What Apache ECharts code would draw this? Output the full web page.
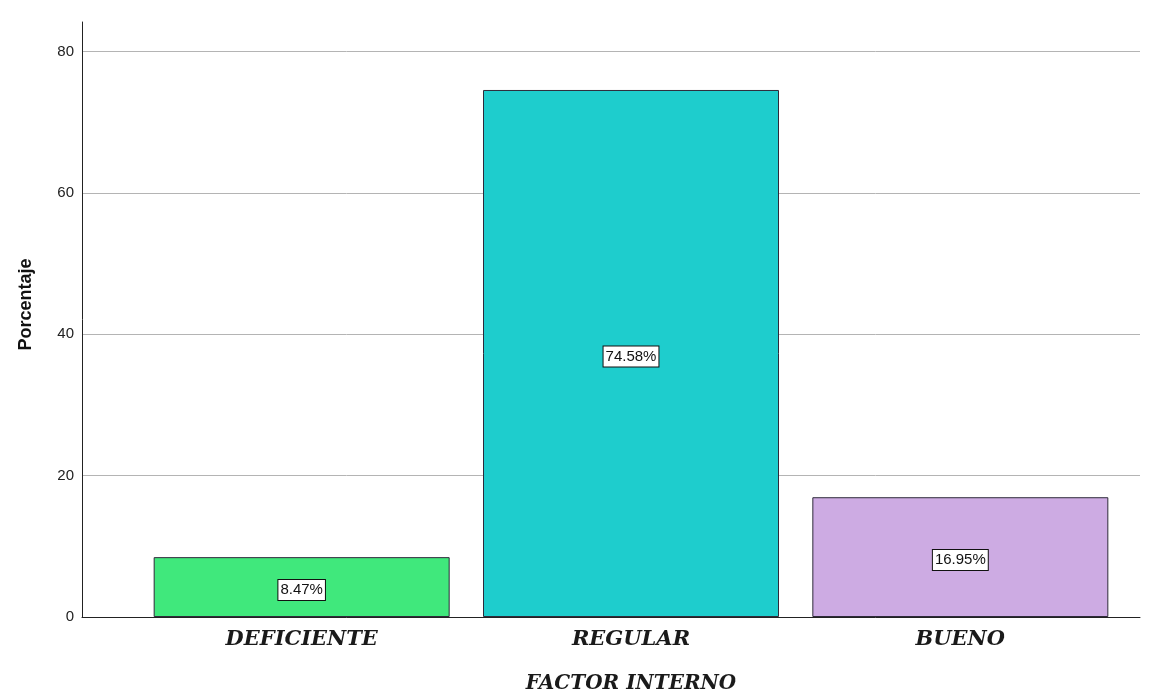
<!DOCTYPE html>
<html>
<head>
<meta charset="utf-8">
<script src="https://cdn.jsdelivr.net/npm/echarts@6/dist/echarts.min.js"></script>
<style>
  html, body { margin: 0; padding: 0; background: #fff; }
  #chart { width: 1153px; height: 694px; }
</style>
</head>
<body>
<div id="chart"></div>
<script>
// Categories and percentages
const categories = ['DEFICIENTE', 'REGULAR', 'BUENO'];
const percentages = [8.47, 74.58, 16.95];
const barColors = ['#40E87C', '#1ECDCD', '#CDABE3'];
const yTicks = [0, 20, 40, 60, 80];

const yMin = 0, yMax = 84.2;

const serif = '"DejaVu Serif", "Liberation Serif", serif';
const sans = '"Liberation Sans", Arial, sans-serif';

const chart = echarts.init(document.getElementById('chart'), null, { renderer: 'canvas' });

chart.setOption({
  animation: false,
  backgroundColor: '#ffffff',
  grid: [
    // frame: axis lines and horizontal gridlines
    { left: 82, right: 13, top: 22, bottom: 77, outerBoundsMode: 'none', containLabel: false },
    // bars and category labels
    { left: 137, right: 28, top: 22, bottom: 77, outerBoundsMode: 'none', containLabel: false }
  ],
  xAxis: [
    {
      gridIndex: 0, type: 'value', min: 0, max: 1,
      axisLine: { show: true, lineStyle: { color: '#222', width: 1 } },
      axisTick: { show: false }, axisLabel: { show: false }, splitLine: { show: false },
      name: 'FACTOR INTERNO', nameLocation: 'middle', nameGap: 57,
      nameTextStyle: {
        fontFamily: serif, fontStyle: 'italic', fontWeight: 'bold', fontSize: 20, color: '#1a1a1a',
        padding: [0, 0, 0, 40]
      }
    },
    {
      gridIndex: 1, type: 'category', data: categories,
      axisLine: { show: false }, axisTick: { show: false },
      axisLabel: {
        margin: 12,
        fontFamily: serif, fontStyle: 'italic', fontWeight: 'bold', fontSize: 21, color: '#1a1a1a'
      }
    }
  ],
  yAxis: [
    {
      gridIndex: 0, type: 'value', min: yMin, max: yMax, interval: 20,
      axisLine: { show: true, lineStyle: { color: '#222', width: 1 } },
      axisTick: { show: false },
      axisLabel: {
        color: '#222', fontFamily: sans, fontSize: 15, margin: 8,
        formatter: v => (yTicks.includes(v) ? String(v) : '')
      },
      splitLine: { show: true, showMaxLine: false, lineStyle: { color: '#b4b4b4', width: 1 } },
      name: 'Porcentaje', nameLocation: 'middle', nameGap: 47,
      nameTextStyle: {
        fontFamily: sans, fontWeight: 'bold', fontSize: 18, color: '#111',
        padding: [0, 0, 0, 30]
      }
    },
    {
      gridIndex: 1, type: 'value', min: yMin, max: yMax,
      show: false, splitLine: { show: false }
    }
  ],
  series: [
    {
      type: 'bar', xAxisIndex: 1, yAxisIndex: 1,
      barWidth: 296,
      data: percentages.map((v, i) => ({
        value: v,
        itemStyle: { color: barColors[i], borderColor: '#2e2a3a', borderWidth: 1 }
      })),
      label: {
        show: true, position: 'inside', offset: [0, 3],
        formatter: p => p.value.toFixed(2) + '%',
        fontFamily: sans, fontSize: 15, color: '#111',
        backgroundColor: '#ffffff', borderColor: '#111', borderWidth: 1,
        padding: [3, 2, 2, 2]
      }
    }
  ]
});
</script>
</body>
</html>
